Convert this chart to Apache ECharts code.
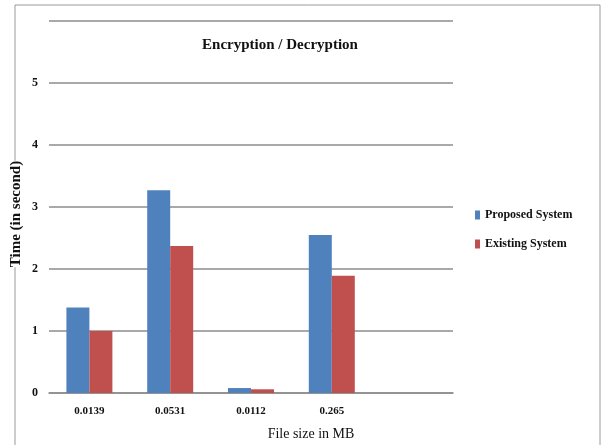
<!DOCTYPE html>
<html>
<head>
<meta charset="utf-8">
<script src="https://cdn.jsdelivr.net/npm/echarts@6/dist/echarts.min.js"></script>
<style>
  html, body { margin: 0; padding: 0; background: #fff; }
  #chart { width: 608px; height: 445px; }
</style>
</head>
<body>
<div id="chart"></div>
<script>
// File sizes (MB) along the x axis; the last slot is left empty
const categories = ['0.0139', '0.0531', '0.0112', '0.265', ''];
// Processing time in seconds
const proposedSystem = [1.38, 3.27, 0.08, 2.55, null];
const existingSystem = [1.00, 2.37, 0.06, 1.89, null];
const yTicks = [0, 1, 2, 3, 4, 5, 6];

const serif = '"Liberation Serif", "Times New Roman", serif';
const chart = echarts.init(document.getElementById('chart'));

chart.setOption({
  animation: false,
  title: {
    text: 'Encryption / Decryption',
    left: 275,
    top: 33,
    textAlign: 'center',
    textStyle: { fontFamily: serif, fontSize: 15, fontWeight: 'bold', color: '#111' }
  },
  legend: {
    orient: 'vertical',
    left: 470,
    top: 204,
    itemWidth: 5,
    itemHeight: 9,
    itemGap: 17,
    icon: 'rect',
    textStyle: { fontFamily: serif, fontSize: 12, fontWeight: 'bold', color: '#111' },
    data: ['Proposed System', 'Existing System']
  },
  grid: { left: 49, right: 155, top: 21, bottom: 52, containLabel: false },
  xAxis: {
    type: 'category',
    data: categories,
    axisLine: { lineStyle: { color: '#8c8c8c', width: 1.5 } },
    axisTick: { show: false },
    axisLabel: { fontFamily: serif, fontSize: 11, fontWeight: 'bold', color: '#111', margin: 13 }
  },
  yAxis: {
    type: 'value',
    min: yTicks[0],
    max: yTicks[yTicks.length - 1],
    interval: 1,
    axisLine: { show: false },
    axisTick: { show: false },
    axisLabel: {
      fontFamily: serif, fontSize: 12, fontWeight: 'bold', color: '#111', margin: 11,
      padding: [8, 0, 0, 0],
      formatter: v => (v === yTicks[yTicks.length - 1] ? '' : String(v))
    },
    splitLine: { lineStyle: { color: '#8c8c8c', width: 1.5 } }
  },
  graphic: [
    {
      type: 'rect',
      shape: { x: 15, y: 5, width: 585, height: 450 },
      style: { fill: 'none', stroke: '#9a9a9a', lineWidth: 1 },
      z: -1
    },
    {
      type: 'text',
      x: 16,
      y: 214,
      rotation: Math.PI / 2,
      style: {
        text: 'Time (in second)',
        fontFamily: serif, fontSize: 15, fontWeight: 'bold', fill: '#111',
        backgroundColor: '#fff',
        textAlign: 'center', textVerticalAlign: 'middle'
      }
    },
    {
      type: 'text',
      x: 311,
      y: 434,
      style: {
        text: 'File size in MB',
        fontFamily: serif, fontSize: 14, fill: '#111',
        textAlign: 'center', textVerticalAlign: 'middle'
      }
    }
  ],
  series: [
    {
      name: 'Proposed System',
      type: 'bar',
      data: proposedSystem,
      barWidth: 23,
      barGap: '0%',
      itemStyle: { color: '#4F81BD' }
    },
    {
      name: 'Existing System',
      type: 'bar',
      data: existingSystem,
      barWidth: 23,
      itemStyle: { color: '#C0504D' }
    }
  ]
});
</script>
</body>
</html>
